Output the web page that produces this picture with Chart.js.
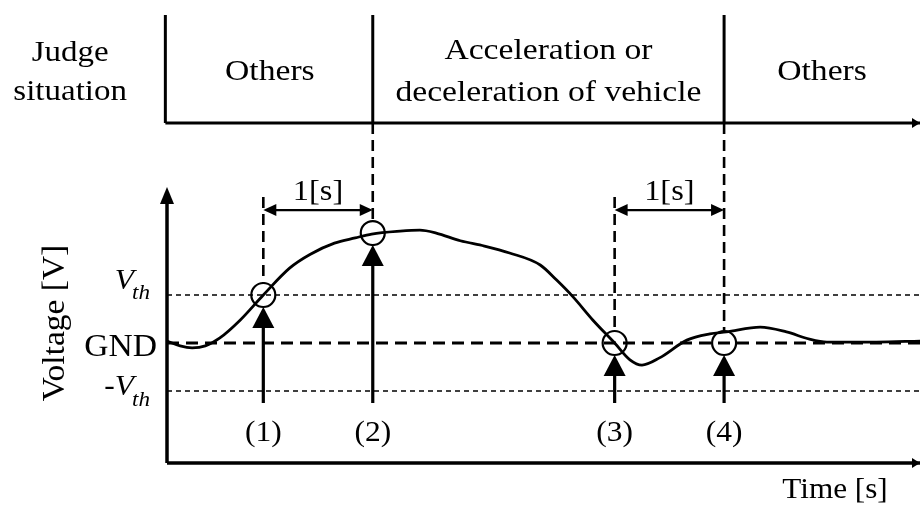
<!DOCTYPE html>
<html><head><meta charset="utf-8">
<script src="https://cdn.jsdelivr.net/npm/chart.js@4/dist/chart.umd.min.js"></script>
<style>html,body{margin:0;padding:0;background:#fff;overflow:hidden}#wrap{width:920px;height:507px;position:relative;overflow:hidden}canvas{display:block}</style>
</head><body><div id="wrap"><canvas id="c"></canvas></div>
<script>
// ---- data (time in s, voltage in units of V_th) ----
const timeS   = [0,0.12,0.23,0.35,0.48,0.67,0.88,1.12,1.31,1.53,1.72,1.87,2.13,2.31,2.46,2.68,2.90,3.13,3.41,3.56,3.71,3.89,4.09,4.23,4.34,4.50,4.75,4.96,5.11,5.42,5.66,5.87,6.03,6.48,6.88];
const voltage = [0.04,-0.06,-0.10,-0.06,0.10,0.48,1.00,1.56,1.85,2.08,2.19,2.27,2.33,2.35,2.29,2.13,2.02,1.875,1.625,1.31,0.96,0.48,0,-0.35,-0.46,-0.31,0.06,0.19,0.23,0.33,0.23,0.08,0.02,0.02,0.04];
const markerTimes    = [0.88, 1.88, 4.09, 5.09];
const markerVoltages = [1.0, 2.29, 0, 0];
const markerLabels   = ['(1)','(2)','(3)','(4)'];
const thresholdValues = [1, 0, -1];
const phaseBounds = [0, 1.88, 5.09, 6.88];
const phaseLabels = [['Others'], ['Acceleration or','deceleration of vehicle'], ['Others']];
const intervalPairs = [[0.88,1.88],[4.09,5.09]];
const intervalLabel = '1[s]';
const tMax = 6.88, vMin = -2.5, vMax = 6.833;
const headerBase = 4.583, yAxisTop = 3.25, markerDashTop = 3.04, arrowBase = -1.25, intervalV = 2.77;

const seg = (x1,y1,x2,y2)=>[{x:x1,y:y1},{x:x2,y:y2}];
const lineDs = (data, w, dash)=>({type:'line', data, borderColor:'#000', borderWidth:w, borderDash:dash||[], pointRadius:0, fill:false, clip:false, tension:0});

const datasets = [];
// curve
datasets.push({type:'line', data: timeS.map((t,i)=>({x:t,y:voltage[i]})), borderColor:'#000', borderWidth:2.8, pointRadius:0, fill:false, clip:false, cubicInterpolationMode:'monotone'});
// threshold lines
thresholdValues.forEach(v=>{
  if (v===0) datasets.push(lineDs(seg(0,0,tMax,0), 2.8, [12,7]));
  else datasets.push(lineDs(seg(0,v,tMax,v), 1.6, [5,4]));
});
// axes
datasets.push(lineDs(seg(0,vMin,0,yAxisTop-0.2), 3.5));
datasets.push(lineDs(seg(0,vMin,tMax,vMin), 3.5));
// header
datasets.push(lineDs(seg(-0.015,headerBase,tMax,headerBase), 3));
phaseBounds.slice(0,3).forEach((t,i)=>datasets.push(lineDs(seg(i===0?-0.015:t,headerBase,i===0?-0.015:t,vMax), 3)));
// dashed verticals above markers
const circleR = 12, pxPerV = 48;
markerTimes.forEach((t,i)=>{
  const top = (i===1||i===3) ? headerBase : markerDashTop;
  const bottom = markerVoltages[i] + circleR/pxPerV;
  datasets.push(lineDs(seg(t,top,t,bottom), 2.6, [11,6]));
});
// circles
datasets.push({type:'scatter', data: markerTimes.map((t,i)=>({x:t,y:markerVoltages[i]})), pointRadius:circleR, pointHoverRadius:circleR, pointBorderWidth:2.2, pointBorderColor:'#000', pointBackgroundColor:'rgba(0,0,0,0)', showLine:false, clip:false});

function txt(ctx,s,px,py,font,align,sx,base){
  ctx.save(); ctx.font=font; ctx.textAlign=align||'center'; ctx.textBaseline=base||'middle';
  ctx.translate(px,py); ctx.scale(sx||1.1,1); ctx.fillText(s,0,0); ctx.restore();
}
function tri(ctx,pts){ctx.beginPath();ctx.moveTo(pts[0][0],pts[0][1]);ctx.lineTo(pts[1][0],pts[1][1]);ctx.lineTo(pts[2][0],pts[2][1]);ctx.closePath();ctx.fill();}

const overlay = {
  id:'overlay',
  afterDatasetsDraw(chart){
    const {ctx, scales:{x,y}} = chart;
    const X=v=>x.getPixelForValue(v), Y=v=>y.getPixelForValue(v);
    ctx.save(); ctx.fillStyle='#000'; ctx.strokeStyle='#000';
    const serif = '"Liberation Serif","Times New Roman",serif';
    // y axis arrowhead
    const ax=X(0), ay=Y(yAxisTop);
    tri(ctx,[[ax,ay],[ax-7,ay+17],[ax+7,ay+17]]);
    // right arrowheads
    tri(ctx,[[X(tMax),Y(vMin)],[X(tMax)-8,Y(vMin)-5],[X(tMax)-8,Y(vMin)+5]]);
    tri(ctx,[[X(tMax),Y(headerBase)],[X(tMax)-8,Y(headerBase)-5],[X(tMax)-8,Y(headerBase)+5]]);
    // up arrows
    markerTimes.forEach((t,i)=>{
      const px=X(t), tip=Y(markerVoltages[i])+circleR, bot=Y(arrowBase);
      ctx.lineWidth=3.2; ctx.beginPath(); ctx.moveTo(px,bot); ctx.lineTo(px,tip+18); ctx.stroke();
      tri(ctx,[[px,tip],[px-11,tip+21],[px+11,tip+21]]);
      txt(ctx,markerLabels[i],px,Y(arrowBase)+30,'30px '+serif,'center',1.05);
    });
    // 1[s] intervals
    intervalPairs.forEach(([a,b])=>{
      const pa=X(a), pb=X(b), py=Y(intervalV);
      ctx.lineWidth=2.2; ctx.beginPath(); ctx.moveTo(pa+10,py); ctx.lineTo(pb-10,py); ctx.stroke();
      tri(ctx,[[pa,py],[pa+13,py-6],[pa+13,py+6]]);
      tri(ctx,[[pb,py],[pb-13,py-6],[pb-13,py+6]]);
      txt(ctx,intervalLabel,(pa+pb)/2,py-18,'30px '+serif,'center',1.08);
    });
    // header labels
    txt(ctx,'Judge',X(-0.885),Y(headerBase)-70,'30px '+serif,'center',1.1);
    txt(ctx,'situation',X(-0.885),Y(headerBase)-31,'30px '+serif,'center',1.1);
    phaseLabels.forEach((lines,i)=>{
      const cx=(X(phaseBounds[i])+X(phaseBounds[i+1]))/2, cy=(Y(headerBase)+Y(vMax))/2+3;
      const n=lines.length;
      lines.forEach((s,j)=>txt(ctx,s,cx,cy+(j-(n-1)/2)*42,'30px '+serif,'center',1.12));
    });
    // y tick labels
    const rx=X(0)-33;
    txt(ctx,'V',rx,Y(1)-6,'italic 30px '+serif,'right',1.05,'alphabetic');
    txt(ctx,'th',rx-2,Y(1)+4,'italic 22px '+serif,'left',1.05,'alphabetic');
    txt(ctx,'GND',X(0)-10,Y(0)+5,'32px '+serif,'right',1.05);
    txt(ctx,'-V',rx,Y(-1)+4,'italic 30px '+serif,'right',1.05,'alphabetic');
    txt(ctx,'th',rx-2,Y(-1)+15,'italic 22px '+serif,'left',1.05,'alphabetic');
    // axis titles
    ctx.save(); ctx.translate(56, Y(0)-20); ctx.rotate(-Math.PI/2);
    txt(ctx,'Voltage [V]',0,0,'31px '+serif,'center',1.08); ctx.restore();
    txt(ctx,'Time [s]',X(tMax)-85,Y(vMin)+27,'30px '+serif,'center',1.04);
    ctx.restore();
  }
};

new Chart(document.getElementById('c'), {
  data:{datasets},
  options:{
    responsive:true, maintainAspectRatio:false, animation:false,
    layout:{autoPadding:false, padding:{left:167,top:15,right:0,bottom:44}},
    plugins:{legend:{display:false},tooltip:{enabled:false}},
    events:[],
    scales:{
      x:{type:'linear',min:0,max:tMax,display:false},
      y:{type:'linear',min:vMin,max:vMax,display:false}
    }
  },
  plugins:[overlay]
});
</script></body></html>
